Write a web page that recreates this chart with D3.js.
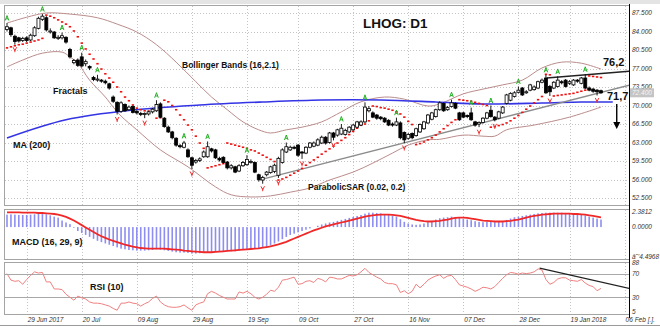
<!DOCTYPE html>
<html>
<head>
<title>LHOG: D1</title>
<script src="https://d3js.org/d3.v7.min.js"></script>
<style>
  body { margin: 0; background: #fff; }
  text { font-family: "Liberation Sans", Arial, sans-serif; }
  .lbl { font-weight: bold; fill: #111; }
  .ax { font-style: italic; font-size: 6.5px; fill: #333; }
</style>
</head>
<body>
<svg id="chart" width="660" height="326"></svg>
<script>
// ---- daily bars (index 0 = first visible bar) ----
const open = [
  84.4, 84.7, 83.1, 82.8, 82.3, 82.8, 82.4, 83.2, 84.6, 86.3,
  86.6, 83.9, 83.9, 82.7, 82.8, 82.9, 80.6, 78.1, 78.6, 79.2,
  77.9, 77.4, 75.3, 74.8, 74.8, 74.6, 74.1, 71.6, 70.6, 68.9,
  70.2, 69.2, 69.8, 68.9, 68.5, 68.3, 68.4, 68.8, 69.0, 70.3,
  67.6, 65.9, 65.0, 63.8, 62.4, 62.1, 61.6, 60.1, 59.3, 59.6,
  60.3, 60.3, 61.8, 61.6, 60.0, 60.2, 59.3, 58.2, 58.4, 57.6,
  58.6, 58.8, 59.2, 59.2, 56.9, 55.9, 56.9, 57.3, 57.5, 56.8,
  59.2, 61.2, 61.6, 62.1, 62.5, 61.2, 61.0, 62.1, 62.3, 62.5,
  62.9, 64.0, 63.0, 64.8, 64.4, 64.6, 64.5, 65.0, 65.4, 65.9,
  66.3, 66.9, 69.0, 68.6, 68.2, 67.8, 67.6, 67.2, 66.5, 66.3,
  66.7, 64.9, 63.8, 64.7, 64.3, 65.0, 65.6, 66.7, 67.4, 67.9,
  69.2, 70.4, 69.2, 69.8, 70.4, 68.6, 68.6, 68.1, 68.6, 66.9,
  66.5, 66.8, 67.6, 69.1, 67.8, 67.6, 68.6, 70.4, 71.0, 71.7,
  72.5, 73.3, 72.4, 72.9, 73.0, 73.3, 74.4, 75.2, 73.6, 73.3,
  73.6, 74.5, 74.8, 74.2, 73.9, 74.8, 74.2, 75.2, 73.3, 73.1,
  72.9, 72.8];
const close = [
  84.9, 83.4, 82.1, 82.2, 82.7, 82.3, 83.3, 84.7, 86.5, 86.9,
  84.3, 84.1, 82.8, 82.9, 83.2, 82.0, 79.2, 78.5, 77.6, 77.5,
  78.3, 77.1, 74.9, 75.0, 74.6, 74.3, 73.3, 70.8, 68.9, 70.5,
  69.0, 69.7, 68.7, 68.6, 68.3, 68.5, 68.8, 69.3, 70.2, 67.8,
  66.0, 65.0, 63.9, 62.5, 62.2, 62.9, 60.3, 58.7, 59.6, 59.9,
  61.2, 62.2, 61.4, 60.1, 59.7, 59.2, 58.2, 58.6, 57.4, 58.6,
  59.2, 59.8, 59.4, 57.4, 56.0, 56.4, 57.4, 58.4, 58.7, 60.0,
  61.6, 62.2, 62.1, 62.0, 60.6, 61.0, 62.1, 62.9, 62.9, 63.5,
  64.0, 62.9, 64.8, 64.0, 65.4, 65.7, 65.3, 65.9, 66.3, 66.9,
  66.9, 69.7, 69.4, 67.8, 67.6, 67.5, 66.9, 66.3, 66.3, 66.9,
  63.9, 63.5, 64.5, 63.9, 65.6, 66.4, 66.9, 68.2, 68.6, 69.2,
  70.5, 69.0, 69.6, 70.5, 69.5, 67.3, 67.8, 67.9, 67.3, 66.3,
  66.8, 67.6, 68.6, 67.9, 67.3, 68.8, 69.7, 72.0, 72.3, 72.4,
  72.9, 72.0, 72.6, 73.9, 73.5, 74.5, 74.8, 72.4, 72.6, 74.4,
  74.8, 74.3, 73.6, 74.5, 74.8, 74.6, 75.2, 73.3, 72.9, 72.7,
  72.6, 72.4];
const high = [
  85.6, 84.9, 83.4, 83.0, 83.0, 83.1, 83.6, 85.0, 86.8, 87.3,
  86.9, 84.6, 84.1, 83.3, 83.8, 83.1, 80.9, 78.8, 78.9, 80.0,
  78.7, 77.6, 75.6, 75.8, 75.0, 74.9, 74.3, 71.9, 70.8, 70.8,
  70.4, 70.0, 70.0, 69.1, 68.8, 68.7, 69.0, 69.5, 71.0, 70.6,
  67.8, 66.2, 65.2, 64.0, 62.7, 63.3, 61.9, 60.3, 59.9, 60.2,
  61.5, 63.2, 62.0, 61.8, 60.3, 60.4, 59.5, 58.9, 58.6, 58.9,
  59.5, 60.6, 59.8, 59.4, 57.1, 56.7, 57.6, 58.6, 59.0, 60.3,
  61.9, 63.0, 62.4, 62.4, 62.7, 61.4, 62.3, 63.1, 63.2, 63.8,
  64.3, 64.2, 65.0, 65.0, 65.6, 66.5, 65.6, 66.1, 66.5, 67.1,
  67.2, 70.6, 69.9, 68.9, 68.4, 68.0, 67.8, 67.4, 66.8, 67.7,
  67.0, 65.1, 64.8, 64.9, 65.8, 66.6, 67.1, 68.4, 68.8, 69.4,
  70.8, 70.6, 69.9, 71.1, 70.6, 68.8, 68.8, 68.3, 69.6, 67.1,
  67.0, 67.8, 68.8, 70.0, 68.0, 69.0, 69.9, 72.2, 72.5, 72.7,
  73.6, 73.5, 72.9, 74.1, 73.8, 74.7, 75.1, 75.8, 73.9, 74.6,
  75.5, 74.8, 75.0, 74.8, 75.0, 75.0, 75.4, 75.9, 73.6, 73.3,
  73.1, 73.0];
const low = [
  84.0, 83.0, 81.5, 81.9, 82.0, 82.0, 82.2, 83.0, 84.4, 86.0,
  84.0, 83.6, 82.6, 82.4, 82.5, 81.7, 78.9, 77.8, 77.3, 77.2,
  77.4, 76.7, 74.6, 74.5, 74.3, 74.0, 73.0, 70.5, 68.3, 68.6,
  68.8, 69.0, 68.5, 68.3, 68.0, 67.6, 68.1, 68.5, 68.8, 67.6,
  65.8, 64.8, 63.6, 62.2, 61.9, 61.9, 60.1, 58.0, 59.0, 59.3,
  60.1, 60.1, 61.1, 59.9, 59.4, 59.0, 57.9, 57.9, 57.2, 57.4,
  58.4, 58.6, 59.0, 57.2, 55.6, 55.2, 56.6, 57.1, 57.2, 56.3,
  59.0, 61.0, 61.4, 61.7, 60.3, 59.9, 60.8, 61.9, 62.1, 62.3,
  62.7, 62.6, 62.8, 63.4, 64.1, 64.4, 64.3, 64.8, 65.2, 65.7,
  66.1, 66.7, 68.7, 67.6, 67.3, 67.2, 66.7, 66.1, 66.0, 66.1,
  63.6, 62.9, 63.5, 63.6, 64.1, 64.8, 65.4, 66.5, 67.2, 67.7,
  69.0, 68.8, 69.0, 69.6, 69.3, 67.1, 67.6, 67.6, 67.1, 66.0,
  65.9, 66.6, 67.4, 67.7, 67.0, 67.4, 68.4, 70.2, 70.8, 71.5,
  72.3, 71.8, 72.2, 72.7, 72.8, 73.1, 74.2, 72.2, 71.8, 73.1,
  73.4, 74.0, 73.4, 73.9, 73.7, 74.3, 74.0, 73.1, 72.7, 72.4,
  71.9, 72.2];

// Parabolic SAR (0.02, 0.2), one dot per bar
const sar = [
  80.9, 81.1, 81.3, 81.5, 81.6, 81.8, 82.0, 82.2, 82.4, 82.7,
  87.1, 86.9, 86.6, 86.2, 85.8, 85.4, 84.9, 84.1, 83.0, 81.8,
  80.7, 79.7, 78.8, 77.9, 76.9, 76.0, 75.2, 74.4, 73.5, 72.6,
  71.6, 70.9, 70.1, 69.5, 69.2, 69.0, 68.95, 68.9, 67.6, 67.7,
  71.0, 70.7, 70.0, 69.2, 68.2, 67.3, 66.3, 65.4, 64.2, 62.9,
  61.9, 58.2, 58.4, 58.6, 58.8, 59.0, 62.9, 62.7, 62.5, 62.3,
  62.1, 61.9, 61.6, 61.4, 61.0, 60.6, 60.2, 59.8, 59.4, 55.9,
  56.1, 56.4, 56.8, 57.2, 57.6, 58.1, 58.7, 59.2, 59.7, 60.2,
  60.8, 61.3, 61.8, 62.3, 62.9, 63.4, 63.9, 64.5, 65.1, 65.7,
  66.3, 66.5, 67.1, 69.9, 69.8, 69.6, 69.5, 69.3, 69.1, 68.8,
  68.4, 67.8, 67.0, 66.4, 62.6, 62.8, 63.1, 63.5, 63.9, 64.4,
  65.0, 65.6, 66.2, 66.8, 67.3, 71.1, 71.0, 70.9, 70.8, 70.6,
  70.4, 70.2, 70.0, 65.9, 66.0, 66.2, 66.4, 66.7, 67.1, 67.6,
  68.1, 68.7, 69.3, 69.9, 70.5, 71.1, 71.7, 75.9, 75.8, 71.8,
  71.9, 72.0, 72.1, 72.2, 72.3, 72.5, 72.7, 72.9, 75.6, 75.5,
  75.4, 75.3];

// fractal bars
const fractalUp = [0, 9, 14, 19, 23, 38, 45, 51, 61, 71, 85, 91, 99, 113, 118, 123, 130, 137, 140, 147];
const fractalDown = [2, 28, 35, 47, 65, 69, 75, 83, 101, 120, 124, 138, 150];

// Bollinger Bands (16, 2.1), read at some bars
const bbUpIdx = [0, 5, 10, 16, 23, 28, 33, 38, 43, 48, 52, 56, 60, 64, 67, 71, 75, 80, 85, 90, 96, 101, 107, 110, 116, 121, 126, 131, 136, 141, 146, 151];
const bbUpper = [85.6, 86.7, 87.5, 87.3, 86.6, 85.4, 83.9, 81.5, 78.2, 74.5, 71.6, 69.2, 66.9, 65.4, 64.8, 65.4, 65.9, 66.9, 68.8, 70.7, 71.6, 71.2, 69.9, 70.3, 72.2, 73.1, 73.9, 74.8, 77.1, 78.2, 78.0, 76.9];
const bbLowIdx = [0, 4, 9, 14, 16, 18, 21, 25, 27, 29, 33, 39, 46, 53, 57, 62, 67, 72, 77, 82, 88, 93, 98, 102, 107, 110, 116, 121, 124, 127, 134, 143, 151];
const bbLower = [77.3, 78.6, 79.9, 80.1, 79.2, 78.0, 74.8, 71.6, 69.7, 68.0, 65.4, 61.6, 58.4, 54.6, 53.1, 52.7, 52.9, 53.6, 54.4, 55.9, 57.4, 59.1, 61.0, 62.5, 63.5, 63.6, 64.4, 64.2, 64.2, 65.4, 66.3, 67.8, 69.7];

// MA (200)
const maIdx = [0, 15, 32, 49, 65, 80, 95, 109, 121, 136, 146, 154];
const ma200 = [63.85, 67.3, 69.15, 70.1, 70.66, 71.04, 71.04, 70.66, 70.28, 70.47, 70.66, 70.66];

// trend lines [bar, price]
const supportLine = [[64, 55.9], [158.5, 73.9]];
const resistLine = [[137.2, 75.2], [158.5, 76.5]];
const arrowLine = [[155, 70.3], [155, 66.2]];

// MACD (16, 29, 9)
const macdHist = [
  1.9, 1.95, 1.9, 1.85, 1.85, 1.85, 1.9, 1.95, 2.0, 2.0,
  1.95, 1.8, 1.6, 1.45, 1.0, 0.7, 0.45, -0.1, -0.6, -0.9,
  -1.2, -1.5, -1.8, -2.1, -2.3, -2.5, -2.7, -2.9, -3.1, -3.3,
  -3.4, -3.5, -3.55, -3.6, -3.6, -3.6, -3.55, -3.5, -3.4, -3.45,
  -3.55, -3.65, -3.75, -3.85, -3.9, -3.9, -3.95, -4.05, -4.05, -4.0,
  -3.95, -3.85, -3.8, -3.75, -3.7, -3.7, -3.7, -3.7, -3.7, -3.6,
  -3.5, -3.4, -3.3, -3.3, -3.3, -3.2, -3.0, -2.8, -2.5, -2.2,
  -1.85, -1.5, -1.2, -1.0, -0.8, -0.6, -0.4, -0.2, 0.0, 0.2,
  0.4, 0.55, 0.7, 0.8, 0.95, 1.1, 1.25, 1.4, 1.55, 1.7,
  1.85, 2.05, 2.2, 2.2, 2.15, 2.1, 2.0, 1.9, 1.75, 1.6,
  1.2, 0.8, 0.55, 0.4, 0.35, 0.4, 0.55, 0.75, 0.95, 1.15,
  1.35, 1.45, 1.5, 1.6, 1.55, 1.4, 1.25, 1.15, 1.05, 0.9,
  0.8, 0.75, 0.8, 0.8, 0.75, 0.8, 0.9, 1.1, 1.3, 1.5,
  1.6, 1.7, 1.8, 1.9, 2.0, 2.1, 2.15, 2.2, 2.2, 2.2,
  2.2, 2.2, 2.15, 2.1, 2.05, 2.0, 1.9, 1.8, 1.6, 1.45,
  1.3, 1.15];
const macdSignal = [
  2.25, 2.25, 2.25, 2.25, 2.2, 2.2, 2.2, 2.2, 2.15, 2.15,
  2.1, 2.05, 2.0, 1.9, 1.75, 1.55, 1.3, 1.0, 0.65, 0.3,
  -0.05, -0.4, -0.75, -1.1, -1.4, -1.65, -1.9, -2.1, -2.3, -2.5,
  -2.7, -2.85, -3.0, -3.1, -3.2, -3.25, -3.3, -3.3, -3.3, -3.3,
  -3.3, -3.35, -3.4, -3.45, -3.5, -3.6, -3.65, -3.7, -3.75, -3.8,
  -3.85, -3.85, -3.85, -3.8, -3.75, -3.7, -3.65, -3.6, -3.55, -3.5,
  -3.45, -3.4, -3.35, -3.3, -3.25, -3.15, -3.05, -2.95, -2.8, -2.65,
  -2.45, -2.25, -2.0, -1.75, -1.5, -1.25, -1.0, -0.75, -0.5, -0.3,
  -0.1, 0.1, 0.25, 0.4, 0.55, 0.7, 0.85, 1.0, 1.15, 1.3,
  1.45, 1.6, 1.7, 1.8, 1.85, 1.9, 1.9, 1.9, 1.85, 1.8,
  1.7, 1.55, 1.4, 1.25, 1.1, 1.0, 0.9, 0.85, 0.85, 0.9,
  0.95, 1.05, 1.15, 1.3, 1.4, 1.45, 1.45, 1.4, 1.3, 1.2,
  1.1, 1.0, 0.95, 0.9, 0.85, 0.85, 0.85, 0.9, 0.95, 1.05,
  1.15, 1.3, 1.45, 1.6, 1.7, 1.8, 1.9, 1.95, 2.0, 2.05,
  2.05, 2.05, 2.05, 2.05, 2.0, 2.0, 1.95, 1.9, 1.8, 1.7,
  1.6, 1.5];

// RSI (10)
const rsi = [
  70, 59, 57, 58, 52, 60, 67, 73, 71, 72,
  56, 56, 44, 44, 43, 35, 30, 25, 32, 29,
  27, 22, 20, 20, 19, 17, 15, 11, 8, 20,
  20, 22, 20, 19, 15, 19, 22, 28, 32, 22,
  17, 14, 13, 13, 14, 17, 12, 8, 17, 20,
  22, 36, 40, 37, 33, 30, 27, 27, 27, 39,
  37, 40, 36, 30, 27, 30, 35, 42, 40, 47,
  59, 60, 62, 64, 52, 53, 57, 58, 55, 62,
  60, 56, 64, 63, 61, 61, 64, 67, 66, 68,
  73, 79, 72, 68, 64, 61, 55, 53, 53, 51,
  38, 41, 36, 40, 52, 46, 52, 59, 63, 66,
  68, 62, 66, 67, 60, 51, 49, 47, 44, 40,
  43, 47, 46, 44, 48, 55, 62, 68, 72, 71,
  69, 71, 70, 71, 73, 78, 76, 60, 52, 55,
  61, 63, 63, 59, 58, 57, 60, 54, 50, 48,
  41, 45];
const rsiTrend = [[135.4, 79.5], [158.8, 44]];

// axes
const priceTicks = [87.5, 84, 80.5, 77, 73.5, 70, 66.5, 63, 59.5, 56, 52.5];
const macdTicks = [2.3812, 0, -4.4968];
const rsiTicks = [88, 70, 30, 5];
const rsiLevels = [70, 30];
const dateIdx = [5, 19, 33, 47, 61, 74, 88, 102, 116, 130, 143, 157];
const dateLabels = ["29 Jun 2017", "20 Jul", "09 Aug", "29 Aug", "19 Sep", "09 Oct", "27 Oct", "16 Nov", "07 Dec", "28 Dec", "19 Jan 2018", "06 Feb  [.]."];

// ---------------------------------------------------------------
const svg = d3.select("#chart");
const L = 4, R = 629;
const P = { main: [5, 205], macd: [209, 259], rsi: [262, 314] };

const x = d3.scaleLinear().domain([0, 151]).range([7, 601]);
const y = d3.scaleLinear().domain([52.5, 87.5]).range([198, 13]);
const yM = d3.scaleLinear().domain([-4.4968, 2.3812]).range([256.5, 211.5]);
const yR = d3.scaleLinear().domain([5, 88]).range([312, 263]);

svg.append("rect").attr("width", 660).attr("height", 326).attr("fill", "#fff");
svg.append("rect").attr("width", 660).attr("height", 4).attr("fill", "#e4e4e4");

const defs = svg.append("defs");
Object.entries(P).forEach(([k, v]) => {
  defs.append("clipPath").attr("id", "clip-" + k)
    .append("rect").attr("x", L).attr("y", v[0]).attr("width", R - L).attr("height", v[1] - v[0]);
});
defs.append("marker").attr("id", "head").attr("viewBox", "0 0 10 10")
  .attr("refX", 5).attr("refY", 5).attr("markerWidth", 5).attr("markerHeight", 6)
  .attr("orient", "auto")
  .append("path").attr("d", "M0,0 L10,5 L0,10 z").attr("fill", "#000");

// panel frames and grids
Object.entries(P).forEach(([k, v]) => {
  svg.append("rect").attr("x", L + 0.5).attr("y", v[0] + 0.5)
    .attr("width", R - L).attr("height", v[1] - v[0])
    .attr("fill", "#fff").attr("stroke", "#a4a4a4");
  svg.append("g").selectAll("line").data(dateIdx).join("line")
    .attr("x1", d => Math.round(x(d)) + 0.5).attr("x2", d => Math.round(x(d)) + 0.5)
    .attr("y1", v[0] + 1).attr("y2", v[1])
    .attr("stroke", "#c4c4c4").attr("stroke-dasharray", "1,2");
});
svg.append("g").selectAll("line").data(priceTicks).join("line")
  .attr("x1", L + 1).attr("x2", R)
  .attr("y1", d => Math.round(y(d)) + 0.5).attr("y2", d => Math.round(y(d)) + 0.5)
  .attr("stroke", "#c4c4c4").attr("stroke-dasharray", "1,2");

// ---- main panel ----
const gm = svg.append("g").attr("clip-path", "url(#clip-main)");
const curve = d3.curveCatmullRom;

gm.append("path").datum(bbUpIdx.map((d, i) => [d, bbUpper[i]]))
  .attr("d", d3.line().x(d => x(d[0])).y(d => y(d[1])).curve(curve))
  .attr("fill", "none").attr("stroke", "#bb8c8c").attr("stroke-width", 1);
gm.append("path").datum(bbLowIdx.map((d, i) => [d, bbLower[i]]))
  .attr("d", d3.line().x(d => x(d[0])).y(d => y(d[1])).curve(curve))
  .attr("fill", "none").attr("stroke", "#bb8c8c").attr("stroke-width", 1);
gm.append("path").datum(maIdx.map((d, i) => [d, ma200[i]]))
  .attr("d", d3.line().x(d => x(d[0])).y(d => y(d[1])).curve(curve))
  .attr("fill", "none").attr("stroke", "#3434e6").attr("stroke-width", 1.6);

const seg = d3.line().x(d => x(d[0])).y(d => y(d[1]));
gm.append("path").datum(supportLine).attr("d", seg)
  .attr("stroke", "#8c8c8c").attr("stroke-width", 1.3).attr("fill", "none");
gm.append("path").datum(resistLine).attr("d", seg)
  .attr("stroke", "#222").attr("stroke-width", 1.3).attr("fill", "none");

// SAR dots
gm.append("g").selectAll("rect").data(sar).join("rect")
  .attr("x", (d, i) => x(i) - 1.2).attr("y", d => y(d) - 0.8)
  .attr("width", 2.4).attr("height", 1.6).attr("fill", "#f01010");

// candles
const bars = d3.range(close.length);
gm.append("g").selectAll("line").data(bars).join("line")
  .attr("x1", i => x(i)).attr("x2", i => x(i))
  .attr("y1", i => y(high[i])).attr("y2", i => y(low[i]))
  .attr("stroke", "#000").attr("stroke-width", 0.9);
gm.append("g").selectAll("rect").data(bars).join("rect")
  .attr("x", i => x(i) - 1.5).attr("width", 3)
  .attr("y", i => y(Math.max(open[i], close[i])))
  .attr("height", i => Math.max(1, Math.abs(y(open[i]) - y(close[i]))))
  .attr("fill", i => close[i] >= open[i] ? "#fff" : "#000")
  .attr("stroke", "#000").attr("stroke-width", 0.8);

// fractals
gm.append("g").selectAll("path").data(fractalUp).join("path")
  .attr("transform", i => `translate(${x(i)},${y(high[i]) - 5})`)
  .attr("d", "M-1.8,2.5 L0,-2.5 L1.8,2.5 M-1,0.8 L1,0.8")
  .attr("fill", "none").attr("stroke", "#22b022").attr("stroke-width", 1);
gm.append("g").selectAll("path").data(fractalDown).join("path")
  .attr("transform", i => `translate(${x(i)},${y(low[i]) + 5})`)
  .attr("d", "M-1.8,-2.5 L0,1 L1.8,-2.5 M0,-0.5 L0,2.5")
  .attr("fill", "none").attr("stroke", "#f03030").attr("stroke-width", 1);

// down arrow
svg.append("path").datum(arrowLine).attr("d", seg)
  .attr("stroke", "#000").attr("stroke-width", 1.4).attr("marker-end", "url(#head)");

// ---- MACD panel ----
const gc = svg.append("g").attr("clip-path", "url(#clip-macd)");
gc.append("g").selectAll("rect").data(macdHist).join("rect")
  .attr("x", (d, i) => x(i) - 0.8).attr("width", 1.6)
  .attr("y", d => Math.min(yM(0), yM(d)))
  .attr("height", d => Math.abs(yM(d) - yM(0)))
  .attr("fill", "#8e8ef2");
gc.append("path").datum(macdSignal)
  .attr("d", d3.line().x((d, i) => x(i)).y(d => yM(d)))
  .attr("fill", "none").attr("stroke", "#f02828").attr("stroke-width", 1.8);

// ---- RSI panel ----
const gr = svg.append("g").attr("clip-path", "url(#clip-rsi)");
gr.append("g").selectAll("line").data(rsiLevels).join("line")
  .attr("x1", L + 1).attr("x2", R)
  .attr("y1", d => Math.round(yR(d)) + 0.5).attr("y2", d => Math.round(yR(d)) + 0.5)
  .attr("stroke", "#a8a8a8");
gr.append("path").datum(rsi)
  .attr("d", d3.line().x((d, i) => x(i)).y(d => yR(d)))
  .attr("fill", "none").attr("stroke", "#f08080").attr("stroke-width", 1);
gr.append("path").datum(rsiTrend)
  .attr("d", d3.line().x(d => x(d[0])).y(d => yR(d[1])))
  .attr("fill", "none").attr("stroke", "#222").attr("stroke-width", 1.3);

// right axis line
svg.append("line").attr("x1", R + 0.5).attr("x2", R + 0.5).attr("y1", 4).attr("y2", 318)
  .attr("stroke", "#000").attr("stroke-width", 1);
svg.append("line").attr("x1", 0).attr("x2", 660).attr("y1", 325.5).attr("y2", 325.5)
  .attr("stroke", "#9a9a9a");

// axis labels
svg.append("g").selectAll("text").data(priceTicks).join("text")
  .attr("class", "ax").attr("x", 632).attr("y", d => y(d)).attr("dy", "0.35em")
  .text(d3.format(".3f"));
const last = close[close.length - 1];
svg.append("rect").attr("x", 630).attr("y", y(last) - 4.5).attr("width", 24).attr("height", 9)
  .attr("fill", "#c4c4c4");
svg.append("text").attr("class", "ax").attr("x", 632).attr("y", y(last)).attr("dy", "0.35em")
  .style("fill", "#f6f6f6").text(d3.format(".3f")(last));
svg.append("g").selectAll("text").data(macdTicks).join("text")
  .attr("class", "ax").attr("x", 632).attr("y", d => yM(d)).attr("dy", "0.35em")
  .text(d3.format(".4f"));
svg.append("g").selectAll("text").data(rsiTicks).join("text")
  .attr("class", "ax").attr("x", 632).attr("y", d => yR(d)).attr("dy", "0.35em")
  .text(d => d);
svg.append("g").selectAll("text").data(dateIdx).join("text")
  .attr("class", "ax").attr("x", d => x(d) + 1).attr("y", 322)
  .text((d, i) => dateLabels[i]);

// titles and notes
const note = (t, px, py, size) => svg.append("text").attr("class", "lbl")
  .attr("x", px).attr("y", py).style("font-size", size + "px").text(t);
note("LHOG: D1", 363, 28, 13.5);
note("Bollinger Bands (16,2.1)", 182, 68, 8.5);
note("Fractals", 53, 94, 9);
note("MA (200)", 13, 148, 9);
note("ParabolicSAR (0.02, 0.2)", 308, 190, 8.5);
note("MACD (16, 29, 9)", 12, 245, 9);
note("RSI (10)", 90, 290, 9);
note("76,2", 603, 66, 11);
note("71,7", 607, 100, 11);
</script>
</body>
</html>
